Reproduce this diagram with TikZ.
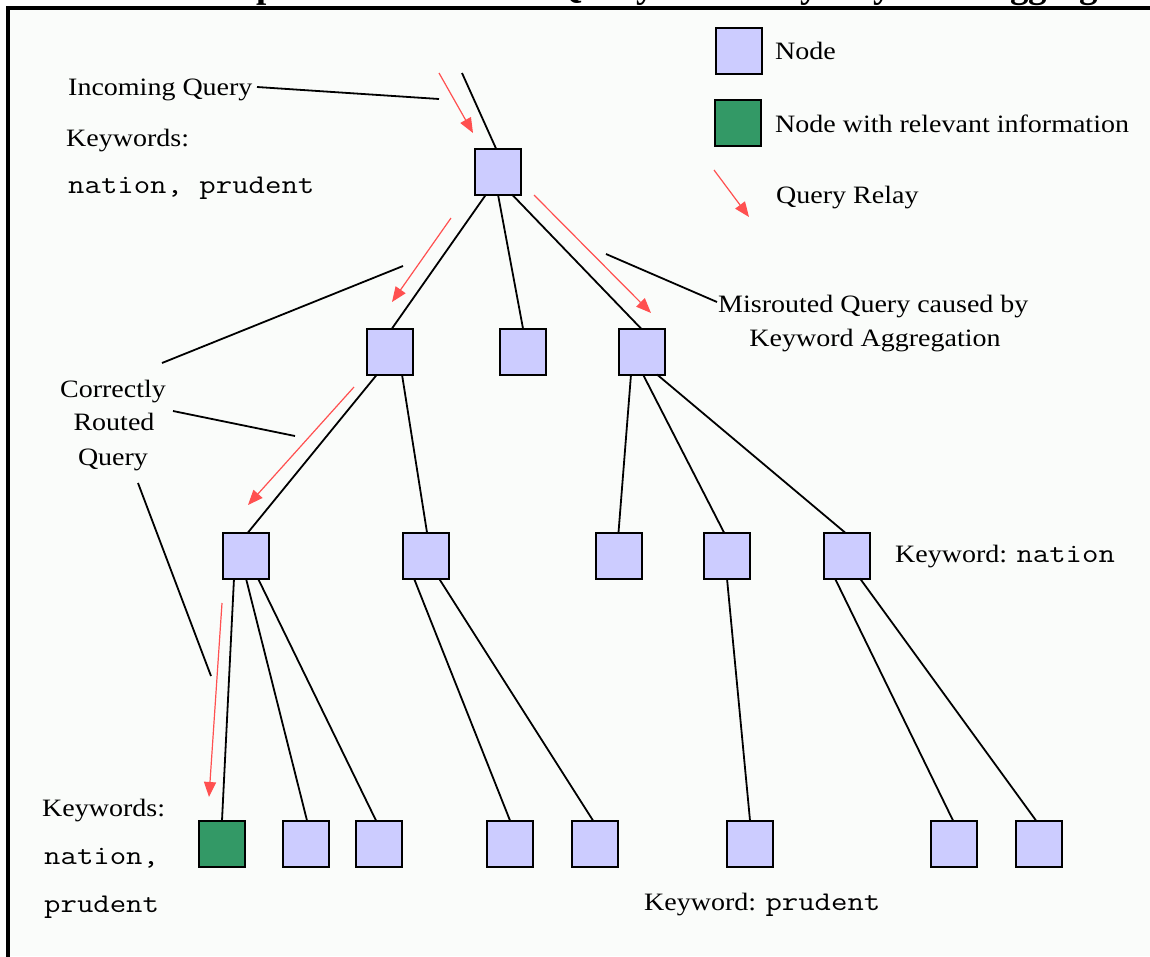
\documentclass[tikz,border=0pt]{standalone}
\usepackage{fontspec}
\setmainfont{Liberation Serif}[FakeStretch=1.12]
\newfontfamily\monof{Latin Modern Mono}[FakeStretch=1.18]
\newfontfamily\titlef{Liberation Serif}
\usetikzlibrary{arrows.meta}
\definecolor{bgc}{RGB}{250,252,250}
\definecolor{nodeblue}{RGB}{204,204,255}
\definecolor{nodegreen}{RGB}{51,153,102}
\definecolor{relayred}{RGB}{255,80,80}
\tikzset{
  pnode/.style={draw=black, fill=nodeblue, line width=2pt, minimum size=46pt, inner sep=0pt, outer sep=0pt},
  gnode/.style={pnode, fill=nodegreen},
  link/.style={line width=1.8pt, draw=black},
  lead/.style={line width=1.8pt, draw=black},
  relay/.style={draw=relayred, line width=1.2pt, -{Triangle[length=15pt,width=12pt,fill=relayred]}},
  lbl/.style={inner sep=0pt, anchor=base west, font=\fontsize{25}{34}\selectfont},
  lblc/.style={inner sep=0pt, anchor=base, font=\fontsize{25}{34}\selectfont},
  mono/.style={lbl, font=\monof\fontsize{27}{34}\selectfont},
}
\begin{document}
\begin{tikzpicture}[x=1pt,y=-1pt]
\useasboundingbox (0,0) rectangle (1150,956);
\clip (0,0) rectangle (1150,956);
\fill[white] (0,0) rectangle (1150,956);
\fill[bgc] (8,8) rectangle (1150,956);
% cropped title
\node[inner sep=0pt, anchor=base west, font=\titlef\bfseries\fontsize{37}{40}\selectfont] (title) at (164,-3) {Example of a Misrouted Query caused by Keyword Aggregation};
% frame
\draw[line width=4pt] (8,1000) -- (8,8) -- (1200,8);

% tree nodes
\node[pnode] (root) at (498,171.5) {};
\node[pnode] (la) at (390,351.5) {};
\node[pnode] (lb) at (522.5,351.5) {};
\node[pnode] (lc) at (642,351.5) {};
\node[pnode] (ma) at (246,555.5) {};
\node[pnode] (mb) at (426,555.5) {};
\node[pnode] (mc) at (618.5,555.5) {};
\node[pnode] (md) at (726.5,555.5) {};
\node[pnode] (me) at (846.5,555.5) {};
\node[gnode] (g1) at (222,843.5) {};
\node[pnode] (g2) at (306,843.5) {};
\node[pnode] (g3) at (378.5,843.5) {};
\node[pnode] (g4) at (510,843.5) {};
\node[pnode] (g5) at (594.5,843.5) {};
\node[pnode] (g6) at (750,843.5) {};
\node[pnode] (g7) at (954,843.5) {};
\node[pnode] (g8) at (1039,843.5) {};

% links
\coordinate (in0) at (462,73);
\draw[link] (in0) -- ([xshift=-2pt]root.north);
\draw[link] ([xshift=-12pt]root.south) -- ([xshift=2pt]la.north);
\draw[link] (root.south) -- ([xshift=0.5pt]lb.north);
\draw[link] ([xshift=14pt]root.south) -- ([xshift=-1pt]lc.north);
\draw[link] ([xshift=-13pt]la.south) -- ([xshift=2pt]ma.north);
\draw[link] ([xshift=12pt]la.south) -- ([xshift=1pt]mb.north);
\draw[link] ([xshift=-11pt]lc.south) -- ([xshift=0pt]mc.north);
\draw[link] ([xshift=1pt]lc.south) -- ([xshift=-2.5pt]md.north);
\draw[link] ([xshift=15pt]lc.south) -- ([xshift=-1.5pt]me.north);
\draw[link] ([xshift=-12pt]ma.south) -- (g1.north);
\draw[link] (ma.south) -- ([xshift=1pt]g2.north);
\draw[link] ([xshift=12pt]ma.south) -- ([xshift=-2.5pt]g3.north);
\draw[link] ([xshift=-12pt]mb.south) -- (g4.north);
\draw[link] ([xshift=13pt]mb.south) -- ([xshift=-1.5pt]g5.north);
\draw[link] ([xshift=0.5pt]md.south) -- (g6.north);
\draw[link] ([xshift=-11.5pt]me.south) -- ([xshift=-1pt]g7.north);
\draw[link] ([xshift=13.5pt]me.south) -- ([xshift=-3pt]g8.north);

% query relay arrows
\coordinate (r0s) at (439,73);   \coordinate (r0e) at (473,133);
\coordinate (r1s) at (451,218);  \coordinate (r1e) at (392,302);
\coordinate (r2s) at (534,195);  \coordinate (r2e) at (651,313);
\coordinate (r3s) at (354,387);  \coordinate (r3e) at (248,505);
\coordinate (r4s) at (222,603);  \coordinate (r4e) at (209,797);
\draw[relay] (r0s) -- (r0e);
\draw[relay] (r1s) -- (r1e);
\draw[relay] (r2s) -- (r2e);
\draw[relay] (r3s) -- (r3e);
\draw[relay] (r4s) -- (r4e);

% labels
\node[lbl] (iq) at (68,95) {Incoming Query};
\node[lbl] (kw1) at (66,146) {Keywords:};
\node[mono] (kw1v) at (68,193) {nation, prudent};
\node[lblc] (cq1) at (113,397) {Correctly};
\node[lblc] (cq2) at (114,430) {Routed};
\node[lblc] (cq3) at (113,465) {Query};
\node[lbl] (mq1) at (718,312) {Misrouted Query caused by};
\node[lblc] (mq2) at (875,346) {Keyword Aggregation};
\node[lbl] (kn) at (895,562) {Keyword: {\monof\fontsize{27}{34}\selectfont nation}};
\node[lbl] (kw2) at (42,816) {Keywords:};
\node[mono] (kw2a) at (44,864) {nation,};
\node[mono] (kw2b) at (44,912) {prudent};
\node[lbl] (kp) at (644,910) {Keyword: {\monof\fontsize{27}{34}\selectfont prudent}};

% leader lines
\coordinate (iqa) at (257,87);   \coordinate (iqb) at (439,99);
\coordinate (c1a) at (162,363);  \coordinate (c1b) at (403,266);
\coordinate (c2a) at (173,411);  \coordinate (c2b) at (295,436);
\coordinate (c3a) at (138,483);  \coordinate (c3b) at (211,676);
\coordinate (mqa) at (717,302);  \coordinate (mqb) at (606,254);
\draw[lead] (iqa) -- (iqb);
\draw[lead] (c1a) -- (c1b);
\draw[lead] (c2a) -- (c2b);
\draw[lead] (c3a) -- (c3b);
\draw[lead] (mqa) -- (mqb);

% legend
\node[pnode] (legn) at (738.5,50.5) {};
\node[gnode] (legg) at (738,122.5) {};
\coordinate (legrs) at (714,170); \coordinate (legre) at (749,217);
\draw[relay] (legrs) -- (legre);
\node[lbl] (legnt) at (775,59) {Node};
\node[lbl] (leggt) at (775,132) {Node with relevant information};
\node[lbl] (legrt) at (776,203) {Query Relay};
\end{tikzpicture}
\end{document}
